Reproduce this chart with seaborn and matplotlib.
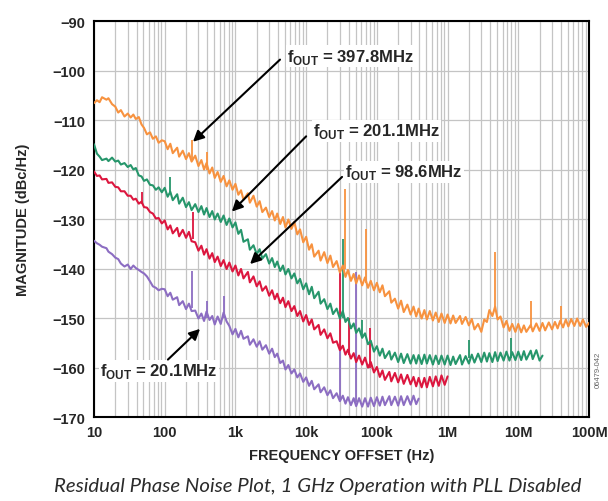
import numpy as np
import pandas as pd
import matplotlib
matplotlib.use("Agg")
import matplotlib.pyplot as plt
import seaborn as sns
from matplotlib.ticker import LogLocator, FixedLocator, NullFormatter

# frequency sweep points: E24 steps per decade, 10 Hz .. 100 MHz
e24 = [1.0, 1.1, 1.2, 1.3, 1.5, 1.6, 1.8, 2.0, 2.2, 2.4, 2.7, 3.0,
       3.3, 3.6, 3.9, 4.3, 4.7, 5.1, 5.6, 6.2, 6.8, 7.5, 8.2, 9.1]
freq_grid = [m * 10 ** d for d in range(1, 8) for m in e24] + [1e8]

# (dBc/Hz), one value per sweep point, one row per decade
mag_397 = [
    -106.6, -106.0, -106.4, -105.4, -105.9, -105.6, -106.8, -107.3, -108.5, -108.0, -109.3, -108.7,
    -109.5, -108.9, -109.8, -109.4, -110.9, -111.6, -112.9, -112.5, -113.8, -113.3, -114.6, -114.1,
    -114.3, -115.9, -114.8, -116.7, -115.6, -117.4, -116.2, -117.9, -116.7, -118.4, -117.2, -119.3,
    -118.1, -120.0, -118.7, -120.8, -119.6, -121.7, -120.5, -122.5, -121.3, -123.4, -122.2, -124.1,
    -122.9, -125.1, -124.2, -126.1, -124.8, -126.7, -125.3, -127.5, -126.4, -128.6, -127.7, -129.6,
    -128.4, -130.3, -128.9, -131.0, -129.6, -131.7, -130.1, -132.0, -130.6, -133.1, -132.1, -134.7,
    -133.6, -136.2, -135.1, -137.6, -136.4, -138.4, -136.7, -138.9, -137.4, -139.7, -138.5, -140.8,
    -139.4, -141.7, -140.3, -142.5, -141.1, -143.0, -141.4, -143.4, -141.8, -143.9, -142.5, -144.4,
    -142.9, -144.8, -143.4, -145.6, -144.6, -146.9, -146.1, -148.1, -146.5, -148.8, -147.3, -149.3,
    -147.7, -149.7, -148.1, -150.1, -148.4, -150.3, -148.6, -150.5, -148.9, -150.8, -149.1, -151.0,
    -149.3, -151.1, -149.5, -151.0, -149.6, -151.2, -149.8, -151.5, -150.2, -152.3, -151.2, -152.8,
    -150.3, -150.8, -148.4, -149.6, -147.7, -150.3, -149.7, -151.9, -150.6, -152.6, -151.2, -152.8,
    -151.2, -152.9, -151.5, -152.8, -151.4, -152.7, -151.1, -152.6, -151.0, -152.5, -150.9, -152.3,
    -150.8, -152.1, -150.6, -151.9, -150.3, -151.7, -150.2, -151.6, -150.1, -151.6, -150.3, -151.8,
    -151.0,
]
mag_201 = [
    -114.9, -116.8, -117.4, -118.1, -117.8, -118.3, -117.6, -118.4, -118.2, -119.0, -118.7, -119.5,
    -119.1, -120.0, -119.7, -121.2, -121.4, -122.3, -122.0, -123.1, -123.2, -124.1, -123.6, -124.6,
    -123.7, -125.5, -124.5, -126.2, -125.0, -126.9, -125.7, -127.6, -126.6, -128.2, -127.0, -128.6,
    -127.4, -129.1, -127.8, -129.6, -128.4, -130.1, -128.9, -130.6, -129.3, -131.2, -129.9, -131.7,
    -130.7, -133.0, -132.2, -134.6, -134.1, -136.2, -135.3, -137.1, -136.1, -138.0, -137.1, -139.0,
    -137.9, -139.7, -138.6, -140.5, -139.4, -141.2, -140.1, -142.0, -141.0, -143.0, -142.1, -144.2,
    -143.0, -145.2, -143.7, -146.0, -144.7, -147.1, -146.2, -148.2, -147.1, -149.2, -148.1, -150.1,
    -148.6, -150.8, -150.0, -152.1, -151.1, -153.0, -152.1, -154.0, -153.1, -155.3, -154.6, -156.8,
    -155.7, -157.6, -156.2, -158.1, -156.7, -158.4, -157.0, -158.9, -157.2, -159.1, -157.3, -159.2,
    -157.5, -159.2, -157.5, -159.3, -157.4, -159.2, -157.5, -159.4, -157.6, -159.3, -157.6, -159.4,
    -157.6, -159.5, -157.8, -159.3, -157.5, -159.4, -157.7, -159.2, -157.4, -159.0, -157.2, -158.9,
    -157.0, -158.8, -157.1, -158.9, -156.9, -158.7, -157.0, -158.6, -156.8, -158.6, -156.9, -158.5,
    -156.8, -158.5, -156.7, -158.4, -156.6, -158.3, -156.5, -158.6, -157.6,
]
mag_98 = [
    -120.4, -121.3, -121.2, -122.0, -121.9, -122.7, -122.6, -123.5, -123.6, -124.4, -124.4, -125.3,
    -125.3, -126.1, -125.9, -126.9, -126.5, -127.6, -127.7, -128.6, -128.9, -129.9, -129.8, -130.9,
    -130.3, -132.1, -131.3, -132.9, -131.8, -133.5, -132.2, -133.8, -132.6, -134.5, -134.7, -136.4,
    -135.4, -137.2, -136.1, -138.0, -136.9, -138.7, -137.6, -139.5, -138.3, -140.1, -138.8, -140.6,
    -139.4, -141.4, -140.1, -142.0, -140.7, -142.8, -141.6, -143.6, -142.6, -144.5, -143.6, -145.5,
    -144.4, -146.2, -145.1, -147.0, -145.9, -147.8, -146.6, -148.6, -147.6, -149.6, -148.6, -150.7,
    -149.4, -151.4, -150.3, -152.3, -151.4, -153.4, -152.3, -154.1, -153.1, -155.0, -154.7, -156.5,
    -155.6, -157.4, -156.4, -158.2, -157.1, -158.9, -157.6, -159.4, -158.0, -160.0, -158.9, -161.0,
    -159.9, -161.9, -160.6, -162.5, -160.9, -162.8, -161.1, -163.0, -161.4, -163.3, -161.5, -163.4,
    -161.9, -163.8, -162.1, -164.0, -162.1, -164.0, -161.9, -163.8, -161.8, -163.7, -161.6, -163.5,
    -161.8,
]
mag_20 = [
    -134.4, -134.9, -135.2, -135.6, -135.9, -136.6, -137.1, -137.8, -138.1, -139.0, -139.6, -139.2,
    -140.1, -139.4, -139.9, -140.3, -140.7, -141.0, -141.6, -142.6, -143.6, -143.9, -144.4, -144.1,
    -144.2, -145.6, -144.9, -146.3, -145.8, -147.4, -146.6, -148.2, -147.1, -148.6, -148.5, -150.1,
    -149.1, -150.6, -148.7, -150.4, -149.6, -151.3, -149.7, -151.2, -148.9, -150.7, -151.6, -153.3,
    -152.2, -153.9, -152.6, -154.2, -153.7, -155.4, -154.3, -155.8, -154.7, -156.4, -155.5, -157.2,
    -156.2, -157.9, -157.2, -159.1, -158.6, -160.4, -159.5, -161.2, -160.4, -162.0, -161.2, -162.9,
    -162.0, -163.7, -162.7, -164.4, -163.4, -165.0, -164.0, -165.6, -164.6, -166.2, -165.2, -166.8,
    -165.7, -167.3, -166.0, -167.6, -166.2, -167.8, -166.2, -167.9, -166.2, -167.9, -166.1, -167.8,
    -166.0, -167.7, -165.9, -167.6, -165.8, -167.6, -165.9, -167.7, -165.8, -167.6, -165.8, -167.5,
    -165.7, -167.4, -166.3,
]

# discrete spurs: frequency, trace level, spur top
spur_397 = [(240, -118, -114.0), (400, -120, -116.5), (35e3, -140, -124.0), (70e3, -143, -132.0),
            (4.7e6, -148.5, -136.7), (15e6, -152, -146.5), (40e6, -151, -147.5)]
spur_201 = [(120, -125, -121.5), (33e3, -150, -134.0), (62e3, -154, -150.5), (2e6, -158, -154.5),
            (8e6, -158, -154.0)]
spur_98 = [(48, -127, -124.5), (250, -134, -128.5), (30e3, -156, -140.5), (40e3, -157.5, -150.0),
           (80e3, -160, -152.0)]
spur_20 = [(240, -148, -140.5), (400, -150, -146.5), (700, -150, -145.5), (30e3, -166.5, -156.0),
           (50e3, -167, -140.7)]

labels = ["397.8MHz", "201.1MHz", "98.6MHz", "20.1MHz"]
colors = ["#F7923F", "#26966B", "#DC163E", "#8C6DC2"]
tick_vals = [10, 100, 1e3, 1e4, 1e5, 1e6, 1e7, 1e8]
tick_text = ["10", "100", "1k", "10k", "100k", "1M", "10M", "100M"]

rows = []
for lab, mags in zip(labels, [mag_397, mag_201, mag_98, mag_20]):
    for f, m in zip(freq_grid, mags):
        rows.append({"freq": f, "mag": m, "trace": lab})
df = pd.DataFrame(rows)

sns.set_theme(style="white")
plt.rcParams["font.family"] = ["Liberation Sans", "DejaVu Sans"]
plt.rcParams["mathtext.fontset"] = "custom"
plt.rcParams["mathtext.rm"] = "Liberation Sans:bold"
plt.rcParams["mathtext.bf"] = "Liberation Sans:bold"

fig = plt.figure(figsize=(6.08, 5.02), dpi=100)
ax = fig.add_axes([94 / 608, 1 - 418 / 502, 495 / 608, 396 / 502])
ax.set_xscale("log")

# spurs first, traces on top
for spurs, c in zip([spur_397, spur_201, spur_98, spur_20], colors):
    ax.vlines([s[0] for s in spurs], [s[1] for s in spurs], [s[2] for s in spurs], color=c, lw=1.3, zorder=2)

sns.lineplot(data=df, x="freq", y="mag", hue="trace", hue_order=labels[::-1],
             palette=dict(zip(labels, colors)), estimator=None, sort=True,
             lw=1.5, legend=False, ax=ax, zorder=3)

ax.set_xlim(10, 1e8)
ax.set_ylim(-170, -90)
ax.xaxis.set_major_locator(FixedLocator(tick_vals))
ax.set_xticklabels(tick_text)
ax.xaxis.set_minor_locator(LogLocator(base=10, subs=np.arange(2, 10), numticks=100))
ax.xaxis.set_minor_formatter(NullFormatter())
ax.set_yticks(np.arange(-170, -89, 10))
ax.grid(which="both", axis="x", color="#c4c4c4", lw=0.9, zorder=0)
ax.grid(which="major", axis="y", color="#c4c4c4", lw=0.9, zorder=0)
ax.set_axisbelow(True)
ax.tick_params(which="both", length=0, labelsize=10.5, pad=6)
for t in ax.get_xticklabels() + ax.get_yticklabels():
    t.set_fontweight("bold")
for sp in ax.spines.values():
    sp.set_color("black")
    sp.set_linewidth(1.5)

ax.set_xlabel("FREQUENCY OFFSET (Hz)", fontsize=10.5, fontweight="bold", labelpad=6)
ax.set_ylabel("MAGNITUDE (dBc/Hz)", fontsize=10.5, fontweight="bold", labelpad=16)

# callouts: label position, arrow tail, arrow tip (freq, dB)
callouts = [
    ("397.8MHz", (5370, -97.1), (4270, -97.8), (251, -114.4)),
    ("201.1MHz", (12600, -112.2), (10000, -113.3), (890, -128.5)),
    ("98.6MHz", (35500, -120.5), (32200, -121.5), (1610, -139.1)),
    ("20.1MHz", (12.2, -160.7), (111, -158.4), (316, -152.2)),
]
for lab, pos, tail, tip in callouts:
    ax.text(pos[0], pos[1], r"f$_{\mathrm{OUT}}$ = " + lab, fontsize=12, fontweight="bold",
            ha="left", va="center", zorder=6,
            bbox=dict(facecolor="white", edgecolor="none", pad=1.0))
    ax.annotate("", xy=tip, xytext=tail, zorder=7,
                arrowprops=dict(arrowstyle="-|>", color="black", lw=1.5, mutation_scale=16,
                                shrinkA=0, shrinkB=0))

fig.text(598 / 608, 1 - 370 / 502, "06479-042", rotation=90, fontsize=5.5, color="#666666",
         ha="center", va="center")
fig.text(318 / 608, 1 - 487 / 502, "Residual Phase Noise Plot, 1 GHz Operation with PLL Disabled",
         fontsize=14.7, style="italic", color="#2b2b2b", ha="center", va="center", family=["Lato", "DejaVu Sans"])

fig.savefig("out.png", dpi=100)
